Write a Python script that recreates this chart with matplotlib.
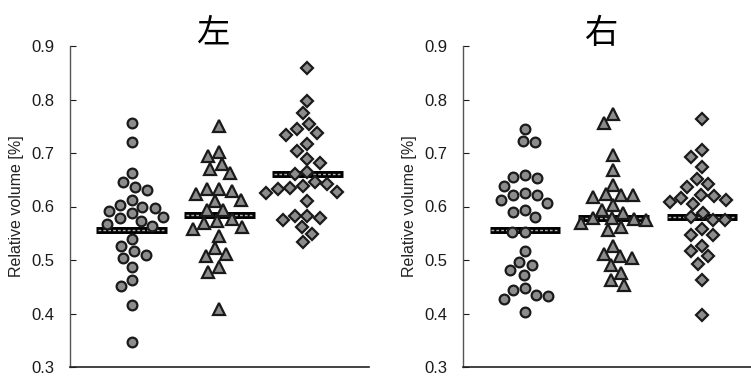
import numpy as np
import matplotlib
matplotlib.use("Agg")
import matplotlib.pyplot as plt

plt.rcParams["font.family"] = ["Liberation Sans", "DejaVu Sans"]

# --- data ---
panel_titles = ["左", "右"]
y_label = "Relative volume [%]"
y_ticks = [0.3, 0.4, 0.5, 0.6, 0.7, 0.8, 0.9]

left_g1 = [0.757, 0.721, 0.662, 0.645, 0.636, 0.630, 0.612, 0.603, 0.600,
           0.597, 0.591, 0.588, 0.580, 0.578, 0.572, 0.568, 0.563, 0.540,
           0.527, 0.517, 0.509, 0.504, 0.487, 0.463, 0.452, 0.415, 0.346]
left_g2 = [0.751, 0.702, 0.694, 0.679, 0.671, 0.662, 0.633, 0.633, 0.629,
           0.623, 0.611, 0.613, 0.593, 0.593, 0.576, 0.573, 0.569, 0.562,
           0.558, 0.545, 0.523, 0.512, 0.507, 0.487, 0.477, 0.409]
left_g3 = [0.858, 0.797, 0.775, 0.754, 0.744, 0.737, 0.734, 0.717, 0.704,
           0.688, 0.682, 0.664, 0.660, 0.645, 0.642, 0.638, 0.635, 0.632,
           0.628, 0.625, 0.610, 0.582, 0.582, 0.579, 0.574, 0.561, 0.548,
           0.533]
right_g1 = [0.745, 0.721, 0.722, 0.659, 0.655, 0.653, 0.639, 0.625, 0.622,
            0.621, 0.613, 0.607, 0.594, 0.590, 0.581, 0.553, 0.553, 0.517,
            0.496, 0.490, 0.481, 0.472, 0.447, 0.444, 0.435, 0.432, 0.427,
            0.403]
right_g2 = [0.772, 0.757, 0.696, 0.668, 0.641, 0.623, 0.622, 0.622, 0.618,
            0.603, 0.594, 0.588, 0.578, 0.578, 0.576, 0.574, 0.570, 0.562,
            0.556, 0.527, 0.512, 0.507, 0.503, 0.490, 0.476, 0.463, 0.453]
right_g3 = [0.763, 0.705, 0.693, 0.673, 0.652, 0.642, 0.637, 0.622, 0.619,
            0.616, 0.613, 0.609, 0.604, 0.588, 0.580, 0.574, 0.574, 0.558,
            0.547, 0.547, 0.527, 0.517, 0.507, 0.493, 0.463, 0.398]

left_lines = [0.556, 0.585, 0.661]
right_lines = [0.556, 0.579, 0.581]

panels = [
    (panel_titles[0], [left_g1, left_g2, left_g3], left_lines),
    (panel_titles[1], [right_g1, right_g2, right_g3], right_lines),
]
markers = ["o", "^", "D"]
marker_sizes = [7, 8.5, 5.8]


def swarm_offsets(ax, values, diam_px):
    """simple beeswarm: x offsets (data units) so markers do not overlap"""
    p0 = ax.transData.transform((0, 0))
    p1 = ax.transData.transform((1, 1))
    sx = p1[0] - p0[0]
    sy = p1[1] - p0[1]
    ys = np.array(values) * sy
    order = np.argsort(-np.array(values))
    placed = []
    offs = np.zeros(len(values))
    for i in order:
        y = ys[i]
        bad = []
        for (xj, yj) in placed:
            dy = abs(y - yj)
            if dy < diam_px:
                w = np.sqrt(diam_px ** 2 - dy ** 2)
                bad.append((xj - w, xj + w))
        cands = [0.0] + [b for iv in bad for b in iv]
        cands.sort(key=abs)
        for c in cands:
            if all(not (lo + 1e-6 < c < hi - 1e-6) for lo, hi in bad):
                x = c
                break
        placed.append((x, y))
        offs[i] = x / sx
    return offs


fig = plt.figure(figsize=(7.51, 3.78), dpi=100)
ax_boxes = [
    [70 / 751, 11 / 378, 299 / 751, 321 / 378],
    [463 / 751, 11 / 378, 301 / 751, 321 / 378],
]
title_x = [213 / 751, 602 / 751]

for k, (title, groups, lines) in enumerate(panels):
    ax = fig.add_axes(ax_boxes[k])
    ax.set_xlim(0.3, 3.7)
    ax.set_ylim(0.3, 0.9)

    for g, vals in enumerate(groups):
        xpos = g + 1
        ax.hlines(lines[g], xpos - 0.4, xpos + 0.4, color="black", lw=5,
                  zorder=2)
        ax.hlines(lines[g], xpos - 0.38, xpos + 0.38, color="#b0b0b0",
                  lw=1, linestyles=(0, (2, 1.5)), zorder=2.1)
        offs = swarm_offsets(ax, vals, 12.5)
        ax.plot(xpos + offs, vals, linestyle="none", marker=markers[g],
                markersize=marker_sizes[g], markerfacecolor="#8c8c8c",
                markeredgecolor="#1a1a1a", markeredgewidth=1.6, zorder=3)

    ax.set_yticks(y_ticks)
    ax.set_yticklabels([f"{t:.1f}" for t in y_ticks])
    ax.set_xticks([])
    ax.tick_params(axis="y", direction="in", length=4, width=0.8,
                   pad=11, labelsize=12, colors="#1a1a1a")
    ax.set_ylabel(y_label, fontsize=11.5, color="#222222")
    ax.yaxis.set_label_coords(-46 / (ax_boxes[k][2] * 751), 0.5)
    for s in ["top", "right"]:
        ax.spines[s].set_visible(False)
    ax.spines["left"].set_color("#555555")
    ax.spines["left"].set_linewidth(1.0)
    ax.spines["bottom"].set_color("#222222")
    ax.spines["bottom"].set_linewidth(1.2)

    fig.text(title_x[k], 1 - 33 / 378, title, fontsize=24,
             family=["Noto Sans CJK JP", "DejaVu Sans"],
             ha="center", va="center")

fig.savefig("out.png", dpi=100)
